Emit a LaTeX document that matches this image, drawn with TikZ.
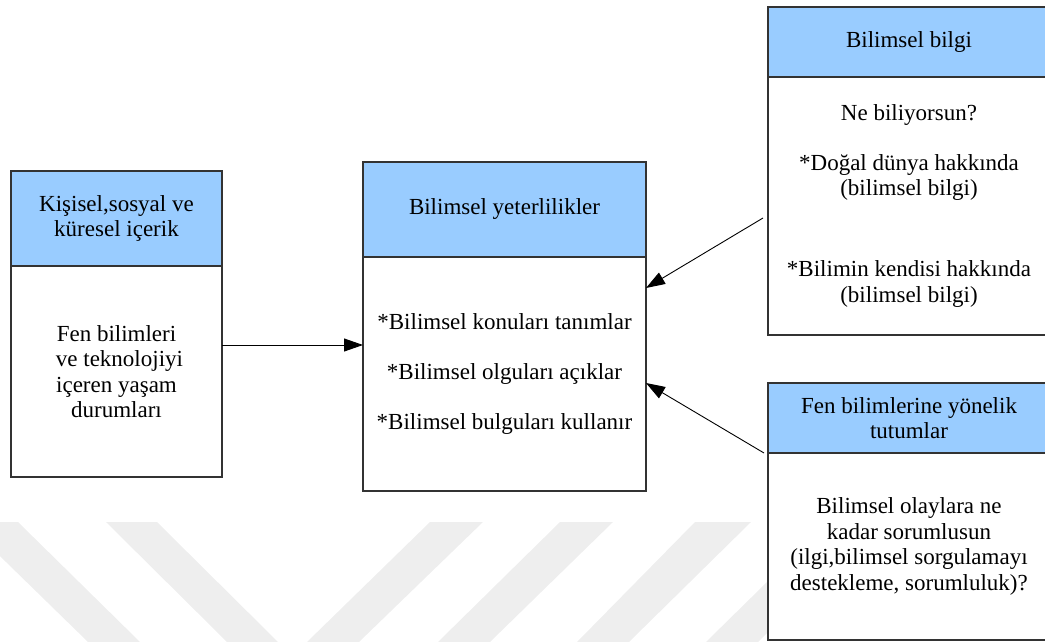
\documentclass[tikz,border=0pt]{standalone}
\usepackage{fontspec}
\setmainfont{Liberation Serif}
\usetikzlibrary{arrows.meta}
\definecolor{hdr}{HTML}{99CCFF}
\definecolor{edge}{HTML}{333333}
\definecolor{wm}{HTML}{EEEEEE}
\tikzset{
  box/.style={draw=edge, line width=1.2pt, rectangle, inner sep=0pt, outer sep=0pt, align=center,
    font=\fontsize{23}{25.5}\selectfont},
  head/.style={box, fill=hdr},
  body/.style={box, fill=white},
  openhead/.style={head, draw=none},
  openbody/.style={body, draw=none},
  border/.style={draw=edge, line width=1.2pt},
  txt/.style={inner sep=0pt, align=center, font=\fontsize{23}{25.5}\selectfont},
  arr/.style={draw=black, line width=0.9pt, -{Triangle[length=19pt,width=13pt]}},
  stripe/.style={fill=wm, draw=none}
}
\begin{document}
\begin{tikzpicture}[x=1pt,y=-1pt]
\useasboundingbox (0,0) rectangle (1045,642);
\clip (0,0) rectangle (1045,642);
% watermark stripes
\fill[stripe] (-35,522) -- (18,522) -- (140,642) -- (88,642) -- cycle;
\fill[stripe] (106,522) -- (157,522) -- (278,642) -- (227,642) -- cycle;
\fill[stripe] (430,522) -- (483,522) -- (359,642) -- (307,642) -- cycle;
\fill[stripe] (560,522) -- (613,522) -- (490,642) -- (438,642) -- cycle;
\fill[stripe] (695,522) -- (751,522) -- (629,642) -- (577,642) -- cycle;
\fill[stripe] (828,522) -- (880,522) -- (758,642) -- (706,642) -- cycle;
% left box
\node[head, minimum width=211pt, minimum height=95pt] (lhead) at (116.5,218.5) {Kişisel,sosyal ve\\küresel içerik};
\node[body, minimum width=211pt, minimum height=211pt] (lbody) at (116.5,371.5) {Fen bilimleri\\\hspace*{6pt}ve teknolojiyi\\içeren yaşam\\durumları};
% middle box
\node[head, minimum width=283pt, minimum height=95pt] (mhead) at (504.5,209.5) {Bilimsel yeterlilikler};
\node[body, minimum width=283pt, minimum height=234pt] (mbody) at (504.5,374) {*Bilimsel konuları tanımlar\\[24.5pt]*Bilimsel olguları açıklar\\[24.5pt]*Bilimsel bulguları kullanır};
% right top box (runs past the right edge: no right side)
\node[openhead, minimum width=312pt, minimum height=70pt] (rthead) at (924,42) {};
\node[openbody, minimum width=312pt, minimum height=258pt] (rtbody) at (924,206) {};
\draw[border] (rthead.north east) -- (rthead.north west) -- (rtbody.south west) -- (rtbody.south east);
\draw[border] (rthead.south west) -- (rthead.south east);
\node[txt] (rtheadtext) at (909,42) {Bilimsel bilgi};
\node[txt] (rtbodytext) at (909,206) {Ne biliyorsun?\\[24.5pt]*Doğal dünya hakkında\\(bilimsel bilgi)\\[55.5pt]*Bilimin kendisi hakkında\\(bilimsel bilgi)};
% right bottom box (runs past the right edge)
\node[openhead, minimum width=312pt, minimum height=70pt] (rbhead) at (924,418) {};
\node[openbody, minimum width=312pt, minimum height=187pt] (rbbody) at (924,546.5) {};
\draw[border] (rbhead.north east) -- (rbhead.north west) -- (rbbody.south west) -- (rbbody.south east);
\draw[border] (rbhead.south west) -- (rbhead.south east);
\node[txt] (rbheadtext) at (909,418) {Fen bilimlerine yönelik\\tutumlar};
\node[txt] (rbbodytext) at (909,546.5) {Bilimsel olaylara ne\\kadar sorumlusun\\(ilgi,bilimsel sorgulamayı\\destekleme, sorumluluk)?};
% connectors
\draw[arr] ([yshift=26.5pt]lbody.east) -- ([yshift=26.5pt]lbody.east -| mbody.west);
\draw[arr] ([xshift=-5pt,yshift=-12pt]rtbody.west) -- ([yshift=86pt]mbody.east);
\draw[arr] ([xshift=-4pt]rbhead.south west) -- ([yshift=-9pt]mbody.east);
\end{tikzpicture}
\end{document}
